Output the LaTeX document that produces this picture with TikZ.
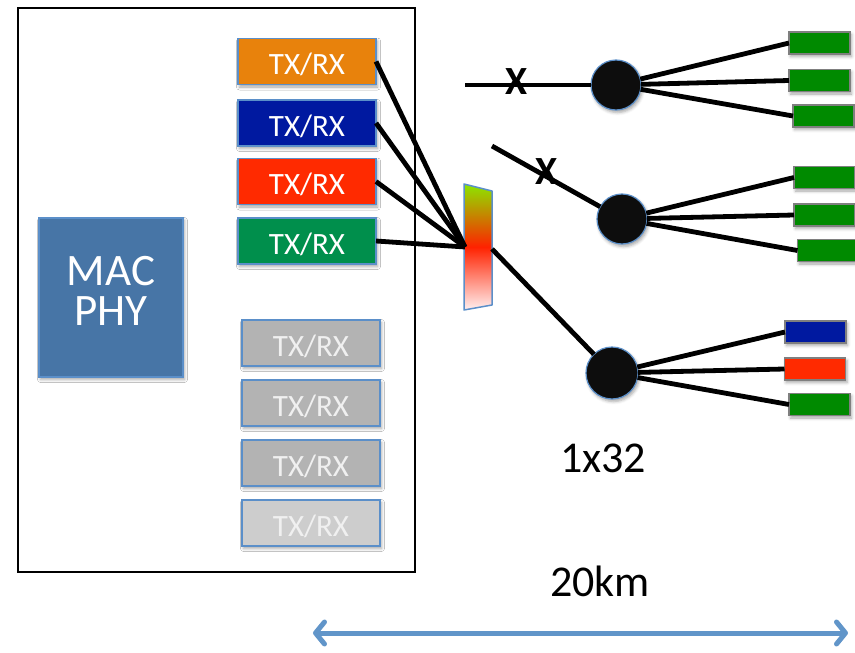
\documentclass[tikz,border=0pt]{standalone}
\usepackage{fontspec}
\setmainfont{Carlito}
\usetikzlibrary{arrows.meta,shadows.blur}

\definecolor{boxedge}{HTML}{5B8FC9}
\definecolor{macfill}{HTML}{4775A6}
\definecolor{orangefill}{HTML}{E8820C}
\definecolor{bluefill}{HTML}{0019A0}
\definecolor{redfill}{HTML}{FF2A00}
\definecolor{greenfill}{HTML}{008F4C}
\definecolor{grayfill}{HTML}{B3B3B3}
\definecolor{lightgrayfill}{HTML}{CDCDCD}
\definecolor{onugreen}{HTML}{008A00}
\definecolor{onublue}{HTML}{0019A0}
\definecolor{onured}{HTML}{FF2A00}
\definecolor{onuedge}{HTML}{7F7F7F}
\definecolor{splitfill}{HTML}{0D0D0D}
\definecolor{arrowblue}{HTML}{6195C9}
\definecolor{muxtop}{HTML}{8CE600}
\definecolor{muxmid}{HTML}{FF2200}
\definecolor{muxbot}{HTML}{FFF0F0}

\begin{document}
\begin{tikzpicture}[x=1pt,y=-1pt,
  soft/.style={blur shadow={shadow xshift=1.5pt,shadow yshift=-2.5pt,shadow blur radius=3pt,shadow opacity=35}},
  trx/.style={rectangle,draw=boxedge,line width=1.5pt,minimum width=138pt,minimum height=46pt,
    inner sep=0pt,outer sep=0pt,text=white,font=\fontsize{31}{31}\selectfont,
    text height=26pt,text depth=0pt,soft},
  idle/.style={trx,fill=grayfill,text=white!94!black},
  onu/.style={rectangle,draw=onuedge,line width=1.5pt,minimum width=61pt,minimum height=22pt,
    inner sep=0pt,outer sep=0pt,soft},
  splitter/.style={circle,fill=splitfill,draw=boxedge,line width=1.2pt,minimum size=50pt,
    inner sep=0pt,outer sep=0pt,soft},
  fiber/.style={line width=4.8pt,black},
  cut/.style={font=\fontsize{40}{40}\selectfont\bfseries,inner sep=0pt},
  caption/.style={font=\fontsize{44}{44}\selectfont,inner sep=0pt},
  maclabel/.style={text=white,font=\fontsize{45}{45}\selectfont,inner sep=0pt,anchor=base},
  distarrow/.style={draw=arrowblue,line width=5pt,
    {Straight Barb[length=9pt,width=22pt,line cap=round,line join=round]}-{Straight Barb[length=9pt,width=22pt,line cap=round,line join=round]}}
]
\useasboundingbox (0,0) rectangle (855,653);

% OLT chassis
\node[rectangle,draw=black,line width=1.3pt,minimum width=397pt,minimum height=564pt,
  inner sep=0pt,fill=white] (olt) at (216.5,290) {};

% MAC/PHY block
\node[rectangle,fill=macfill,draw=boxedge,line width=1.5pt,minimum width=144pt,minimum height=159pt,
  inner sep=0pt,soft] (mac) at (111,297.5) {};
\node[maclabel] (macword) at (111,285) {MAC};
\node[maclabel] (phyword) at (111,325) {PHY};

% active transceivers
\node[trx,fill=orangefill] (t1) at (307,61.5) {TX/RX};
\node[trx,fill=bluefill]   (t2) at (307,123)  {TX/RX};
\node[trx,fill=redfill]    (t3) at (307,181.5){TX/RX};
\node[trx,fill=greenfill]  (t4) at (307,241)  {TX/RX};

% idle transceivers
\node[idle] (t5) at (311,343) {TX/RX};
\node[idle] (t6) at (311,403) {TX/RX};
\node[idle] (t7) at (311,463) {TX/RX};
\node[idle,fill=lightgrayfill] (t8) at (311,523) {TX/RX};

% wavelength multiplexer
\shade[top color=muxtop,bottom color=muxbot,middle color=muxmid]
  (464,184) -- (492,191) -- (492,305) -- (464,310) -- cycle;
\draw[boxedge,line width=1.5pt,line join=round]
  (464,184) -- (492,191) -- (492,305) -- (464,310) -- cycle;
\coordinate (muxin) at (465,247);
\coordinate (muxout) at (492,249);

% feeder fibres into the multiplexer
\draw[fiber] (t1.east) -- (muxin);
\draw[fiber] (t2.east) -- (muxin);
\draw[fiber] (t3.east) -- (muxin);
\draw[fiber] (t4.east) -- (muxin);

% splitters
\node[splitter] (s1) at (616,85) {};
\node[splitter] (s2) at (622,219) {};
\node[splitter,minimum size=52pt] (s3) at (612,373) {};

% cut feeders and live feeder
\coordinate (cut1) at (465,85);
\coordinate (cut2) at (492,146);
\draw[fiber] (cut1) -- (s1);
\draw[fiber] (cut2) -- (s2);
\draw[fiber] (muxout) -- (s3);
\node[cut] (x1) at (517,82) {X};
\node[cut] (x2) at (547,172) {X};

% ONUs
\node[onu,fill=onugreen] (o11) at (819.5,43)   {};
\node[onu,fill=onugreen] (o12) at (819.5,80.5) {};
\node[onu,fill=onugreen] (o13) at (823.5,116)  {};
\node[onu,fill=onugreen] (o21) at (824.5,177.5){};
\node[onu,fill=onugreen] (o22) at (824.5,215)  {};
\node[onu,fill=onugreen] (o23) at (828,250.5)  {};
\node[onu,fill=onublue]  (o31) at (815.5,332)  {};
\node[onu,fill=onured]   (o32) at (815,369)    {};
\node[onu,fill=onugreen] (o33) at (819.5,404.5){};

% drop fibres
\foreach \s/\o in {s1/o11,s1/o12,s1/o13,s2/o21,s2/o22,s2/o23,s3/o31,s3/o32,s3/o33}
  \draw[fiber] (\s) -- (\o.west);

% labels and reach arrow
\node[caption] (ratio) at (603,458) {1x32};
\node[caption] (reach) at (600,581) {20km};
\coordinate (distL) at (313,633);
\coordinate (distR) at (848,633);
\draw[distarrow] (distL) -- (distR);
\end{tikzpicture}
\end{document}
